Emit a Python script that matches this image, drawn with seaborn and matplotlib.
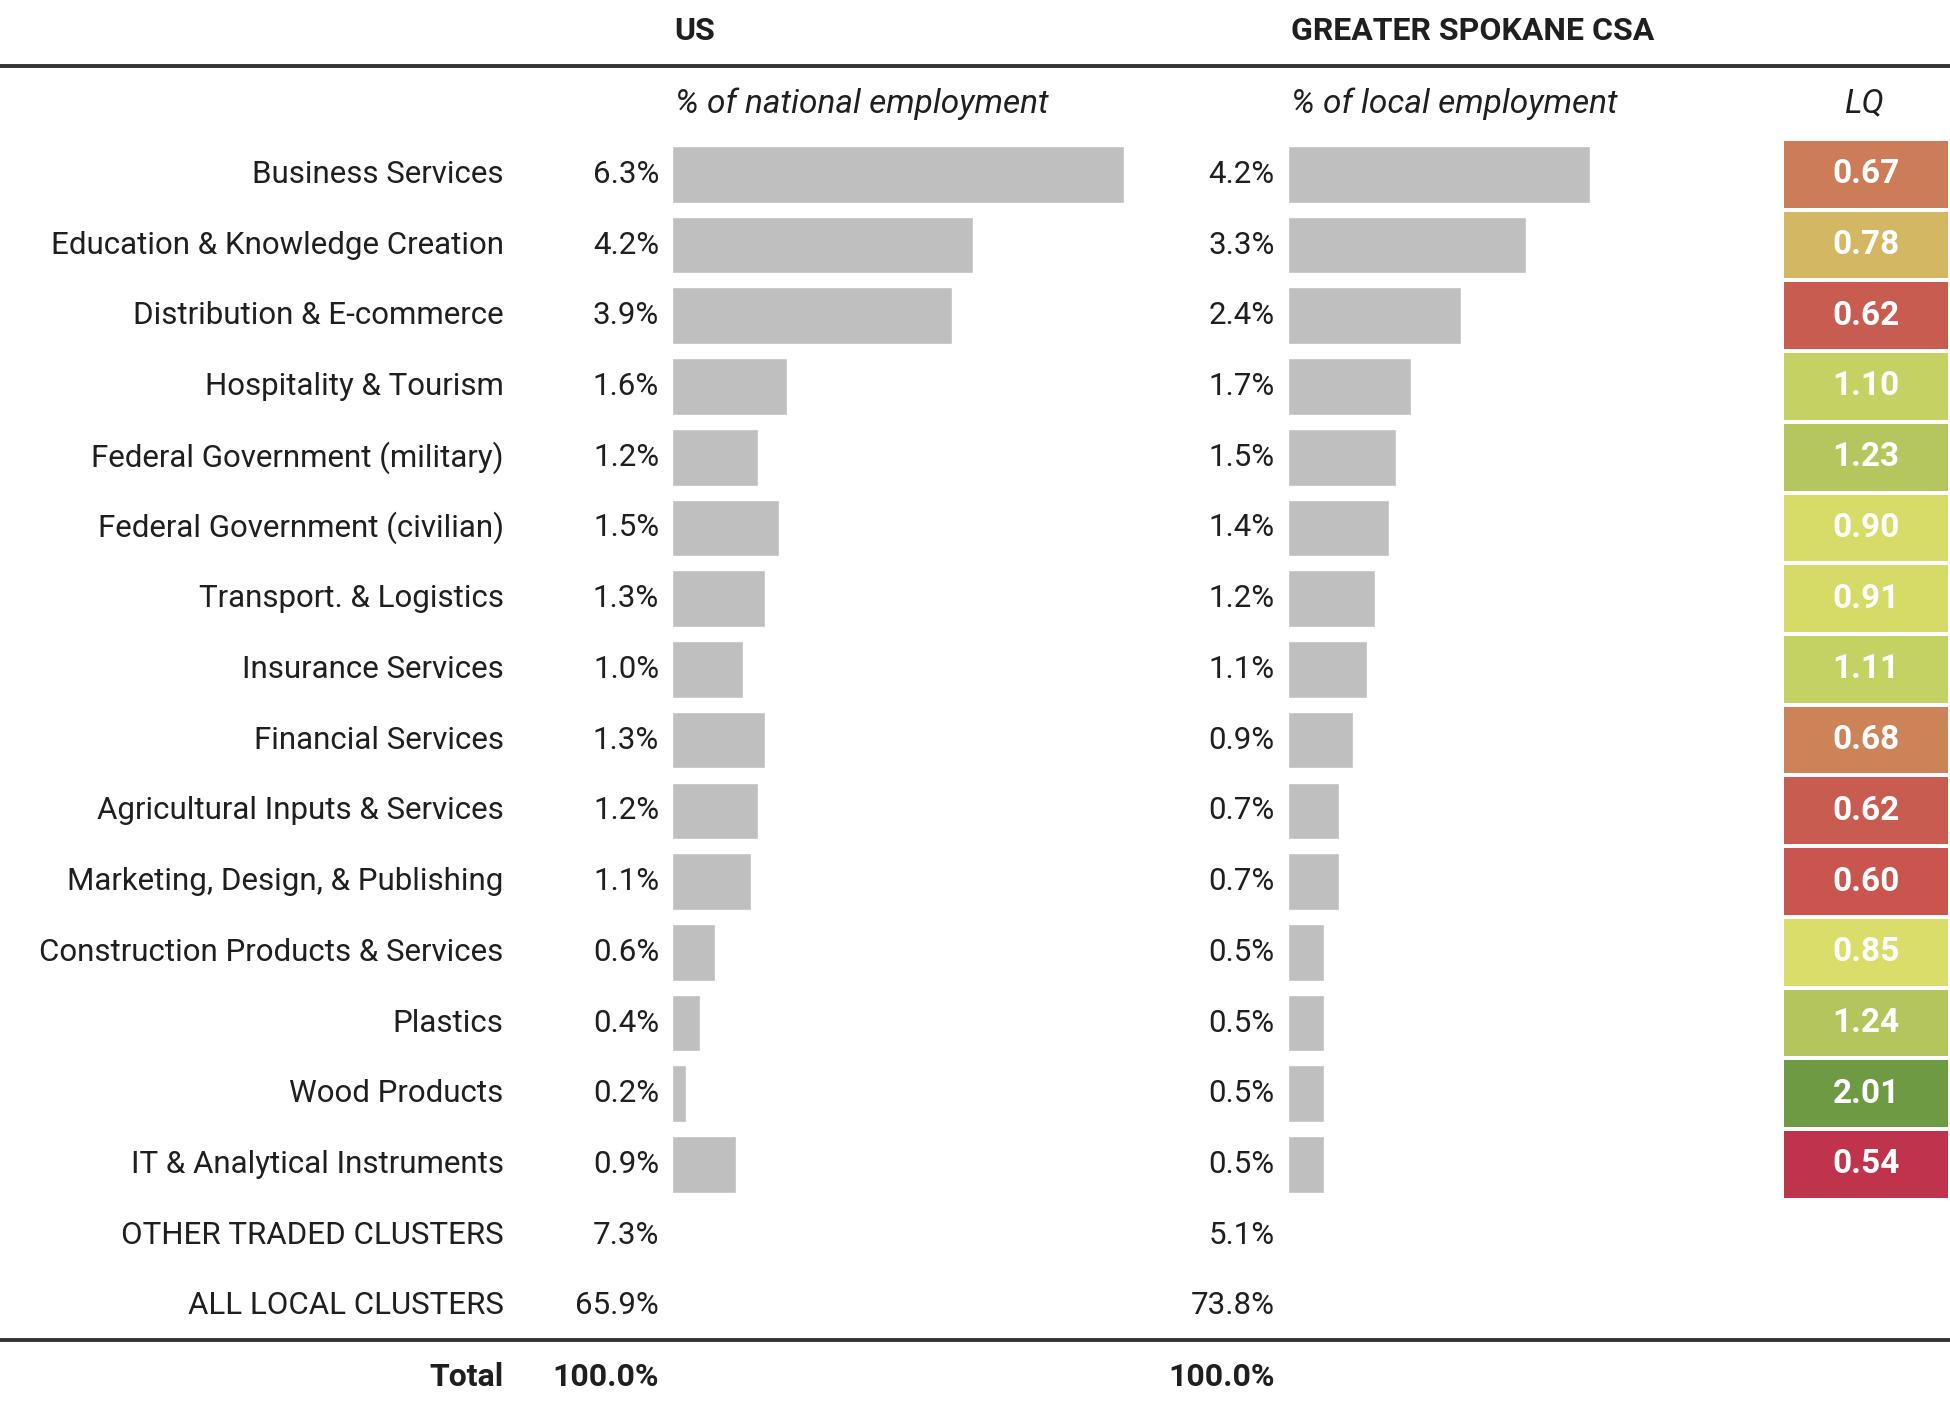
import numpy as np
import pandas as pd
import matplotlib.pyplot as plt
import seaborn as sns
from matplotlib.colors import LinearSegmentedColormap

# ==========================================
# 1. DATA
# ==========================================
clusters = ['Business Services', 'Education & Knowledge Creation', 'Distribution & E-commerce',
            'Hospitality & Tourism', 'Federal Government (military)', 'Federal Government (civilian)',
            'Transport. & Logistics', 'Insurance Services', 'Financial Services',
            'Agricultural Inputs & Services', 'Marketing, Design, & Publishing',
            'Construction Products & Services', 'Plastics', 'Wood Products',
            'IT & Analytical Instruments']
us_share = [6.3, 4.2, 3.9, 1.6, 1.2, 1.5, 1.3, 1.0, 1.3, 1.2, 1.1, 0.6, 0.4, 0.2, 0.9]
local_share = [4.2, 3.3, 2.4, 1.7, 1.5, 1.4, 1.2, 1.1, 0.9, 0.7, 0.7, 0.5, 0.5, 0.5, 0.5]
lq = [0.67, 0.78, 0.62, 1.10, 1.23, 0.90, 0.91, 1.11, 0.68, 0.62, 0.60, 0.85, 1.24, 2.01, 0.54]

other_labels = ['OTHER TRADED CLUSTERS', 'ALL LOCAL CLUSTERS']
other_us = [7.3, 65.9]
other_local = [5.1, 73.8]
total_us = 100.0
total_local = 100.0

df = pd.DataFrame({'Cluster': clusters, 'US': us_share, 'Local': local_share})
lq_df = pd.DataFrame({'LQ': lq}, index=clusters)

# ==========================================
# 2. STYLE
# ==========================================
sns.set_theme(style='white')
plt.rcParams['font.family'] = ['Roboto', 'DejaVu Sans']

TEXT = '#1f1f1f'
BAR = '#BFBFBF'
FS = 22.5

# LQ colour scale (red -> orange -> yellow -> green)
lq_min, lq_max = 0.54, 2.01
anchors = [(0.54, '#C0334C'), (0.60, '#C8574F'), (0.62, '#C95E50'), (0.67, '#CC7F57'),
           (0.78, '#D4B962'), (0.85, '#DCDF6B'), (0.91, '#D6DA66'), (1.10, '#C5D263'),
           (1.24, '#B5C55E'), (2.01, '#6D9A43')]
lq_cmap = LinearSegmentedColormap.from_list(
    'lq', [((v - lq_min) / (lq_max - lq_min), c) for v, c in anchors])

# ==========================================
# 3. LAYOUT (reference pixel grid 1568 x 1130)
# ==========================================
W, H = 1568, 1130
row0, pitch = 140, 56.8
px_per_pct = 57.8


def row_y(i):
    return row0 + pitch * i


fig = plt.figure(figsize=(19.5, 14.07), dpi=100)

bg = fig.add_axes([0, 0, 1, 1])
bg.set_xlim(0, W)
bg.set_ylim(H, 0)
bg.axis('off')

# bar area covers rows -0.5 .. 14.5
top_px = row_y(-0.5)
bot_px = row_y(len(clusters) - 0.5)
ax_bottom = 1 - bot_px / H
ax_height = (bot_px - top_px) / H

bar_w_px = 420
ax_us = fig.add_axes([540 / W, ax_bottom, bar_w_px / W, ax_height])
ax_loc = fig.add_axes([1036 / W, ax_bottom, bar_w_px / W, ax_height])
ax_lq = fig.add_axes([1433 / W, ax_bottom, (W - 1433) / W, ax_height])

for ax, col in [(ax_us, 'US'), (ax_loc, 'Local')]:
    sns.barplot(data=df, x=col, y='Cluster', orient='h', color=BAR, saturation=1,
                width=0.8, ax=ax)
    ax.set_xlim(0, bar_w_px / px_per_pct)
    ax.set_ylim(len(clusters) - 0.5, -0.5)
    ax.axis('off')

sns.heatmap(lq_df, ax=ax_lq, cmap=lq_cmap, vmin=lq_min, vmax=lq_max, cbar=False,
            annot=True, fmt='.2f', linewidths=2.8, linecolor='white',
            annot_kws={'color': 'white', 'fontweight': 'bold', 'fontsize': 24},
            xticklabels=False, yticklabels=False)
ax_lq.set_ylabel('')
ax_lq.set_xlabel('')

# ==========================================
# 4. TEXT
# ==========================================
bg.text(542, 25, 'US', fontsize=23, fontweight='bold', color=TEXT, ha='left', va='center')
bg.text(1038, 25, 'GREATER SPOKANE CSA', fontsize=23, fontweight='bold', color=TEXT,
        ha='left', va='center')
bg.axhline(53, color='#333333', lw=2.8)
bg.text(543, 83, '% of national employment', fontsize=24, style='italic', color=TEXT,
        ha='left', va='center')
bg.text(1038, 83, '% of local employment', fontsize=24, style='italic', color=TEXT,
        ha='left', va='center')
bg.text(1499, 83, 'LQ', fontsize=24, style='italic', color=TEXT, ha='center', va='center')

labels = clusters + other_labels
us_vals = us_share + other_us
loc_vals = local_share + other_local
for i, (lab, u, l) in enumerate(zip(labels, us_vals, loc_vals)):
    y = row_y(i)
    bg.text(405, y, lab, fontsize=FS, color=TEXT, ha='right', va='center')
    bg.text(530, y, f'{u:.1f}%', fontsize=FS, color=TEXT, ha='right', va='center')
    bg.text(1025, y, f'{l:.1f}%', fontsize=FS, color=TEXT, ha='right', va='center')

bg.axhline(1076, color='#333333', lw=2.8)
y_tot = row_y(len(labels))
bg.text(405, y_tot, 'Total', fontsize=23, fontweight='bold', color=TEXT, ha='right', va='center')
bg.text(530, y_tot, f'{total_us:.1f}%', fontsize=23, fontweight='bold', color=TEXT,
        ha='right', va='center')
bg.text(1025, y_tot, f'{total_local:.1f}%', fontsize=23, fontweight='bold', color=TEXT,
        ha='right', va='center')

fig.savefig('out.png', dpi=100, facecolor='white')
